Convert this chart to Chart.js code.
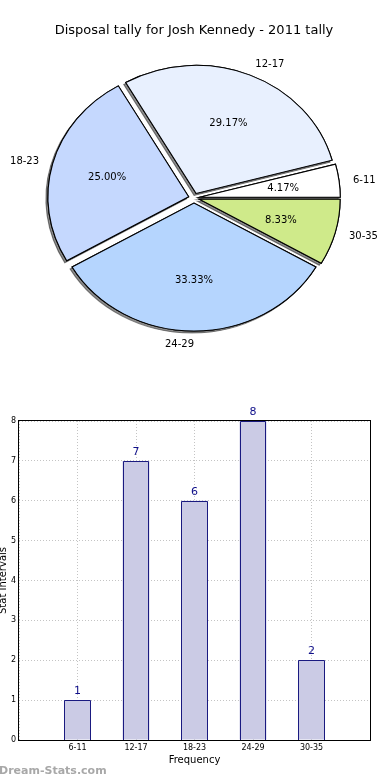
<!DOCTYPE html>
<html>
<head>
<meta charset="utf-8">
<script src="https://cdn.jsdelivr.net/npm/chart.js@4.4.0/dist/chart.umd.min.js"></script>
<style>
html, body { margin: 0; padding: 0; background: #fff; }
#wrap { position: relative; width: 390px; height: 780px; }
canvas { position: absolute; left: 0; }
</style>
</head>
<body>
<div id="wrap">
  <canvas id="pie" width="390" height="390" style="top:0"></canvas>
  <canvas id="bar" width="390" height="390" style="top:390px"></canvas>
</div>
<script>
var chartTitle = 'Disposal tally for Josh Kennedy - 2011 tally';
var categories = ['6-11', '12-17', '18-23', '24-29', '30-35'];
var tally = [1, 7, 6, 8, 2];
var sliceColors = ['#ffffff', '#e8f0fe', '#c5d8fe', '#b5d5fe', '#cfea8a'];
var yTicks = [0, 1, 2, 3, 4, 5, 6, 7, 8];

var FONT = '"DejaVu Sans", "Liberation Sans", sans-serif';
var SX = 1.1;      // matplotlib pie is stretched sideways
var EXPLODE = 5;

// matplotlib goes counterclockwise from 3 o'clock, chart.js clockwise
var pieLabels = categories.slice().reverse();
var pieValues = tally.slice().reverse();
var pieColors = sliceColors.slice().reverse();

var piePlugin = {
  id: 'mplPie',
  beforeDatasetDraw: function(chart, args) {
    var ctx = chart.ctx;
    var arcs = args.meta.data;
    [true, false].forEach(function(shadow) {
      arcs.forEach(function(el) {
        var mid = (el.startAngle + el.endAngle) / 2;
        ctx.save();
        ctx.translate(el.x, el.y);
        ctx.scale(SX, 1);
        ctx.translate(-el.x, -el.y);
        ctx.translate(Math.cos(mid) * EXPLODE, Math.sin(mid) * EXPLODE);
        if (shadow) {
          ctx.shadowColor = 'rgba(0,0,0,0.45)';
          ctx.shadowOffsetX = -2;
          ctx.shadowOffsetY = 2;
          ctx.shadowBlur = 0;
        }
        el.draw(ctx);
        ctx.restore();
      });
    });
    return false;
  },
  afterDraw: function(chart) {
    var ctx = chart.ctx;
    var meta = chart.getDatasetMeta(0);
    var data = chart.data.datasets[0].data;
    var total = data.reduce(function(a, b) { return a + b; }, 0);
    ctx.save();
    ctx.fillStyle = '#000';
    ctx.font = '10px ' + FONT;
    ctx.textBaseline = 'middle';
    meta.data.forEach(function(el, i) {
      var mid = (el.startAngle + el.endAngle) / 2;
      var c = Math.cos(mid), s = Math.sin(mid), r = el.outerRadius;
      var lx = el.x + SX * c * (EXPLODE + 1.1 * r);
      var ly = el.y + s * (EXPLODE + 1.1 * r);
      ctx.textAlign = lx > el.x + 0.5 ? 'left' : 'right';
      ctx.fillText(chart.data.labels[i], lx, ly + 1);
      ctx.textAlign = 'center';
      ctx.fillText((data[i] / total * 100).toFixed(2) + '%',
        el.x + SX * c * (EXPLODE + 0.6 * r), el.y + s * (EXPLODE + 0.6 * r) + 1);
    });
    ctx.restore();
  }
};

new Chart(document.getElementById('pie'), {
  type: 'pie',
  data: {
    labels: pieLabels,
    datasets: [{
      data: pieValues,
      backgroundColor: pieColors,
      borderColor: '#000',
      borderWidth: 1,
      borderJoinStyle: 'miter',
      offset: 0,
      hoverOffset: 0
    }]
  },
  options: {
    responsive: false,
    animation: false,
    events: [],
    rotation: 90,
    radius: 128,
    layout: { padding: { top: 17, left: 0, right: 2, bottom: 49.8 } },
    plugins: {
      legend: { display: false },
      tooltip: { enabled: false },
      title: {
        display: true,
        text: chartTitle,
        color: '#000',
        font: { family: FONT, size: 13, weight: 'normal' },
        padding: { top: 5.5, bottom: 17.7 }
      }
    }
  },
  plugins: [piePlugin]
});

var barPlugin = {
  id: 'barExtras',
  afterDatasetsDraw: function(chart) {
    // crisp 1px outlines on the bars (chart.js puts them on half pixels)
    var ctx = chart.ctx;
    var meta = chart.getDatasetMeta(0);
    var data = chart.data.datasets[0].data;
    ctx.save();
    ctx.strokeStyle = '#1a1a80';
    ctx.lineWidth = 1;
    meta.data.forEach(function(el, i) {
      if (data[i] == null) return;
      var l = Math.round(el.x - el.width / 2) + 0.5;
      var r = Math.round(el.x + el.width / 2) - 0.5;
      var t = Math.round(el.y) + 0.5;
      var b = Math.round(el.base);
      ctx.beginPath();
      ctx.moveTo(l, b);
      ctx.lineTo(l, t);
      ctx.lineTo(r, t);
      ctx.lineTo(r, b);
      ctx.stroke();
    });
    ctx.restore();
  },
  afterDraw: function(chart) {
    var ctx = chart.ctx, a = chart.chartArea;
    ctx.save();
    ctx.strokeStyle = '#000';
    ctx.lineWidth = 1;
    ctx.strokeRect(Math.round(a.left) - 0.5, Math.round(a.top) - 0.5,
      Math.round(a.width) + 1, Math.round(a.height) + 1);

    var meta = chart.getDatasetMeta(0);
    var data = chart.data.datasets[0].data;
    ctx.fillStyle = '#10108a';
    ctx.font = '11px ' + FONT;
    ctx.textAlign = 'center';
    ctx.textBaseline = 'middle';
    meta.data.forEach(function(el, i) {
      if (data[i] == null) return;
      ctx.fillText(String(data[i]), el.x, el.y - 9);
    });

    ctx.fillStyle = '#a8a8a8';
    ctx.font = 'bold 11px ' + FONT;
    ctx.textAlign = 'left';
    ctx.fillText('Dream-Stats.com', -1, 381);
    ctx.restore();
  }
};

var barLabels = [''].concat(categories, ['']);
var barValues = [null].concat(tally, [null]);

new Chart(document.getElementById('bar'), {
  type: 'bar',
  data: {
    labels: barLabels,
    datasets: [{
      data: barValues,
      backgroundColor: '#cbcbe5',
      borderWidth: 0,
      barPercentage: 0.46,
      categoryPercentage: 1
    }]
  },
  options: {
    responsive: false,
    animation: false,
    events: [],
    layout: { padding: { top: 31, right: 20, left: 0, bottom: 0 } },
    plugins: { legend: { display: false }, tooltip: { enabled: false } },
    scales: {
      x: {
        offset: false,
        z: 1,
        border: { display: false, dash: [1, 2] },
        grid: { color: '#c4c4c4', drawTicks: false, offset: false },
        ticks: { color: '#000', font: { family: FONT, size: 8 }, padding: 3, autoSkip: false, maxRotation: 0 },
        title: { display: true, text: 'Frequency', color: '#000', font: { family: FONT, size: 10 }, padding: { top: 0, bottom: 14 } },
        afterFit: function(s) { s.height = 40; }
      },
      y: {
        min: 0,
        max: 8,
        z: 1,
        border: { display: false, dash: [1, 2] },
        grid: { color: '#c4c4c4', drawTicks: false },
        ticks: { color: '#000', font: { family: FONT, size: 8 }, padding: 3 },
        afterBuildTicks: function(s) { s.ticks = yTicks.map(function(v) { return { value: v }; }); },
        title: { display: true, text: 'Stat Intervals', color: '#000', font: { family: FONT, size: 10 }, padding: { top: -2.5, bottom: 0 } },
        afterFit: function(s) { s.width = 19; }
      }
    }
  },
  plugins: [barPlugin]
});
</script>
</body>
</html>
